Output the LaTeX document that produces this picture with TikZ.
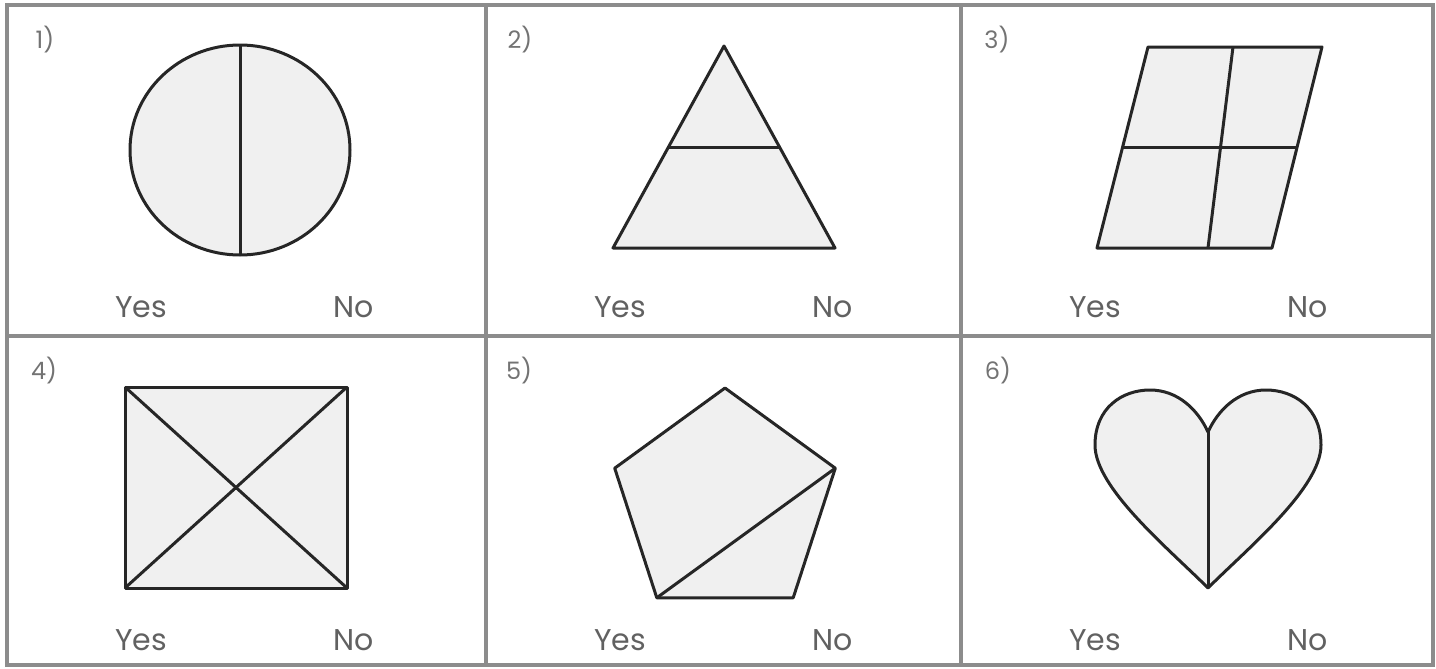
\documentclass[tikz,border=0pt]{standalone}
\usepackage{fontspec}
\setmainfont{Poppins}
\usetikzlibrary{calc}
\begin{document}
\begin{tikzpicture}[x=0.5pt,y=-0.5pt,
    part/.style={draw=black!85,line width=1.5pt,fill=black!6,line join=round},
    cut/.style={draw=black!85,line width=1.5pt},
    grid/.style={draw=black!45,line width=1.7pt},
    answer/.style={text=black!62,font=\fontsize{15}{18}\selectfont},
    number/.style={text=black!55,font=\fontsize{12}{14}\selectfont}]
  \useasboundingbox (0,0) rectangle (1436,669);
  % the table
  \draw[grid] (7,5) rectangle (1433,665);
  \draw[grid] (486,5) -- (486,665);
  \draw[grid] (961,5) -- (961,665);
  \draw[grid] (7,336) -- (1433,336);
  % 1) circle cut in halves
  \draw[part] (240,150) ellipse [x radius=55pt, y radius=52.5pt];
  \draw[cut] (240,45) -- (240,255);
  \node[number] (n1) at (45,40) {1)};
  \node[answer] (yes1) at (141,307) {Yes};
  \node[answer] (no1) at (354,307) {No};
  % 2) triangle
  \coordinate (apex) at (724,46);
  \coordinate (tl) at (613,248);
  \coordinate (tr) at (835,248);
  \draw[part] (apex) -- (tl) -- (tr) -- cycle;
  \draw[cut] ($(apex)!0.5!(tl)$) -- ($(apex)!0.5!(tr)$);
  \node[number] (n2) at (520,40) {2)};
  \node[answer] (yes2) at (620,307) {Yes};
  \node[answer] (no2) at (833,307) {No};
  % 3) parallelogram in four
  \coordinate (pa) at (1148,47);
  \coordinate (pb) at (1322,47);
  \coordinate (pc) at (1272,248);
  \coordinate (pd) at (1097,248);
  \draw[part] (pa) -- (pb) -- (pc) -- (pd) -- cycle;
  \draw[cut] ($(pa)!0.5!(pd)$) -- ($(pb)!0.5!(pc)$);
  \draw[cut] (1233,47) -- (1208,248);
  \node[number] (n3) at (997,40) {3)};
  \node[answer] (yes3) at (1095,307) {Yes};
  \node[answer] (no3) at (1308,307) {No};
  % 4) rectangle with diagonals
  \draw[part] (125,387) rectangle (347,588);
  \draw[cut] (125,387) -- (347,588);
  \draw[cut] (125,588) -- (347,387);
  \node[number] (n4) at (44,371) {4)};
  \node[answer] (yes4) at (141,640) {Yes};
  \node[answer] (no4) at (354,640) {No};
  % 5) pentagon with a diagonal
  \coordinate (q1) at (725,388);
  \coordinate (q2) at (835.3,468.2);
  \coordinate (q3) at (793.2,597.8);
  \coordinate (q4) at (656.8,597.8);
  \coordinate (q5) at (614.7,468.2);
  \draw[part] (q1) -- (q2) -- (q3) -- (q4) -- (q5) -- cycle;
  \draw[cut] (q2) -- (q4);
  \node[number] (n5) at (519,371) {5)};
  \node[answer] (yes5) at (620,640) {Yes};
  \node[answer] (no5) at (833,640) {No};
  % 6) heart in halves
  \draw[part] (1208,588) .. controls (1168,548) and (1095,488) .. (1095,445)
    .. controls (1095,408) and (1122,390) .. (1150,390)
    .. controls (1178,390) and (1198,410) .. (1208,432)
    .. controls (1218,410) and (1238,390) .. (1266,390)
    .. controls (1294,390) and (1321,408) .. (1321,445)
    .. controls (1321,488) and (1248,548) .. (1208,588) -- cycle;
  \draw[cut] (1208,432) -- (1208,588);
  \node[number] (n6) at (998,371) {6)};
  \node[answer] (yes6) at (1095,640) {Yes};
  \node[answer] (no6) at (1308,640) {No};
\end{tikzpicture}
\end{document}
